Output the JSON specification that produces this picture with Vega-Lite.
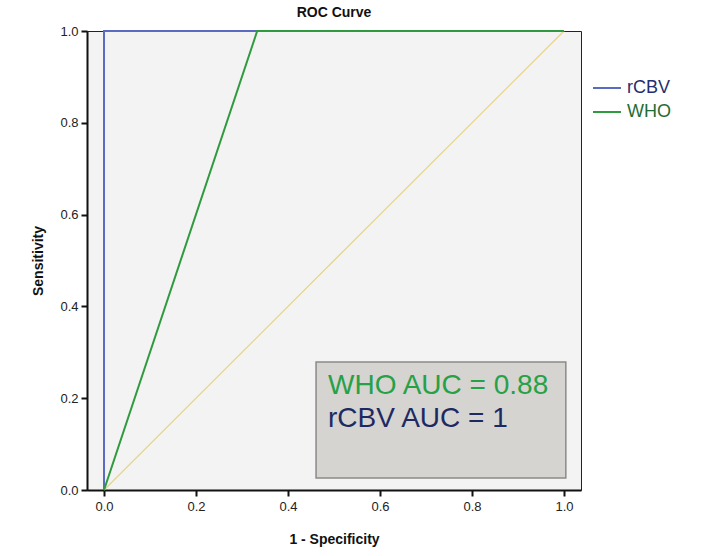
{
  "$schema": "https://vega.github.io/schema/vega-lite/v6.json",
  "width": 494,
  "height": 459,
  "autosize": {"type": "none"},
  "padding": {"left": 87, "top": 31, "right": 136, "bottom": 66},
  "background": "white",
  "title": {"text": "ROC Curve", "font": "Liberation Sans", "fontSize": 14, "fontWeight": "bold", "color": "#111", "anchor": "middle", "offset": 5},
  "config": {
    "view": {"fill": "#f3f3f3", "stroke": "#222", "strokeWidth": 1},
    "font": "Liberation Sans"
  },
  "datasets": {
    "curves": [
      {"series": "rCBV", "fpr": 0, "tpr": 0, "ord": 0},
      {"series": "rCBV", "fpr": 0, "tpr": 1, "ord": 1},
      {"series": "rCBV", "fpr": 1, "tpr": 1, "ord": 2},
      {"series": "WHO", "fpr": 0, "tpr": 0, "ord": 0},
      {"series": "WHO", "fpr": 0.333, "tpr": 1, "ord": 1},
      {"series": "WHO", "fpr": 1, "tpr": 1, "ord": 2}
    ],
    "diag": [
      {"fpr": 0, "tpr": 0},
      {"fpr": 1, "tpr": 1}
    ],
    "box": [
      {"x1": 0.461, "x2": 1.004, "y1": 0.026, "y2": 0.279}
    ],
    "labels": [
      {"label": "WHO AUC = 0.88", "x": 0.487, "y": 0.226, "kind": "WHO"},
      {"label": "rCBV AUC = 1", "x": 0.487, "y": 0.155, "kind": "rCBV"}
    ]
  },
  "layer": [
    {
      "data": {"name": "diag"},
      "mark": {"type": "line", "color": "#e6d68a", "strokeWidth": 1.3},
      "encoding": {
        "x": {"field": "fpr", "type": "quantitative", "scale": {"domain": [-0.037, 1.037], "nice": false, "zero": false},
          "axis": {"title": "1 - Specificity", "values": [0, 0.2, 0.4, 0.6, 0.8, 1.0], "format": ".1f", "grid": false,
            "domainColor": "#111", "domainWidth": 2, "tickColor": "#111", "tickWidth": 2, "tickSize": 6,
            "labelFontSize": 13, "labelColor": "#222", "labelPadding": 4,
            "titleFontSize": 14, "titleFontWeight": "bold", "titleColor": "#111", "titlePadding": 19}},
        "y": {"field": "tpr", "type": "quantitative", "scale": {"domain": [0, 1], "nice": false},
          "axis": {"title": "Sensitivity", "values": [0, 0.2, 0.4, 0.6, 0.8, 1.0], "format": ".1f", "grid": false,
            "domainColor": "#111", "domainWidth": 2, "tickColor": "#111", "tickWidth": 2, "tickSize": 6,
            "labelFontSize": 13, "labelColor": "#222", "labelPadding": 3,
            "titleFontSize": 14, "titleFontWeight": "bold", "titleColor": "#111", "titlePadding": 14}}
      }
    },
    {
      "data": {"name": "curves"},
      "mark": {"type": "line", "strokeWidth": 2, "clip": false},
      "encoding": {
        "x": {"field": "fpr", "type": "quantitative"},
        "y": {"field": "tpr", "type": "quantitative"},
        "order": {"field": "ord", "type": "quantitative"},
        "color": {"field": "series", "type": "nominal",
          "scale": {"domain": ["rCBV", "WHO"], "range": ["#5a6cc2", "#2f9a3e"]},
          "legend": {"title": null, "orient": "none", "legendX": 505, "legendY": 42,
            "symbolType": "stroke", "symbolSize": 324, "symbolStrokeWidth": 2,
            "labelFontSize": 18, "labelOffset": 5, "rowPadding": 0,
            "encode": {"labels": {"update": {"fill": {"signal": "datum.label === 'rCBV' ? '#232f6e' : '#1f6d35'"}}},
                       "symbols": {"update": {"size": {"value": 784}, "stroke": {"signal": "datum.label === 'rCBV' ? '#3e4685' : '#2e8a40'"}}}}}}
      }
    },
    {
      "data": {"name": "box"},
      "mark": {"type": "rect", "fill": "#d5d4d1", "stroke": "#8a8a88", "strokeWidth": 1.5},
      "encoding": {
        "x": {"field": "x1", "type": "quantitative"},
        "x2": {"field": "x2"},
        "y": {"field": "y1", "type": "quantitative"},
        "y2": {"field": "y2"}
      }
    },
    {
      "data": {"name": "labels"},
      "mark": {"type": "text", "align": "left", "baseline": "middle", "fontSize": 28},
      "encoding": {
        "x": {"field": "x", "type": "quantitative"},
        "y": {"field": "y", "type": "quantitative"},
        "text": {"field": "label"},
        "color": {"field": "kind", "type": "nominal", "scale": {"domain": ["WHO", "rCBV"], "range": ["#27a148", "#1d2a62"]}, "legend": null}
      }
    }
  ],
  "resolve": {"scale": {"color": "independent"}}
}
